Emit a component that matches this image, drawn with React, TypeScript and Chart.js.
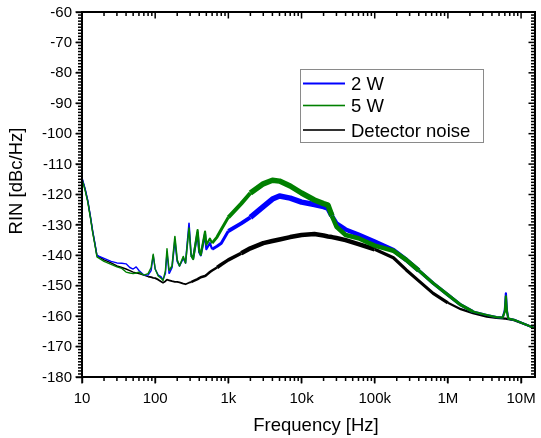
import { useEffect, useRef } from "react";
import { Chart, registerables } from "chart.js";

Chart.register(...registerables);

// frequency grid (Hz) shared by the three traces
const freqHz = [
  10, 11, 12, 13, 14, 15, 16, 20, 25, 30,
  35, 40, 45, 50, 55, 60, 70, 80, 88, 94,
  100, 110, 120, 128, 138, 145, 155, 170, 186, 200,
  215, 242, 260, 290, 310, 330, 380, 400, 420, 480,
  500, 560, 600, 700, 800, 1e3, 1.5e3, 2e3, 3e3, 4e3,
  5e3, 7e3, 1e4, 1.5e4, 2e4, 2.3e4, 2.6e4, 3e4, 4e4, 6e4,
  1e5, 1.8e5, 2.7e5, 4e5, 6.3e5, 1e6, 1.5e6, 2.2e6, 3.4e6, 4.6e6,
  5.6e6, 6.0e6, 6.2e6, 6.4e6, 6.7e6, 8e6, 1.2e7, 1.55e7,
];

// RIN in dBc/Hz
const rin2W = [
  -114.5, -118, -122, -127, -132, -136, -140, -141, -142, -142.5,
  -142.6, -142.8, -144, -144.5, -143.8, -145, -146.5, -146.5, -145, -140,
  -144.5, -146.5, -147, -148, -146, -139, -146, -144, -135, -142,
  -143.5, -141, -142.5, -129.5, -140, -141, -132.5, -139, -140, -133,
  -138, -136, -138, -137, -136, -132, -129.5, -127.5, -124, -121.5,
  -120.5, -121.2, -122.5, -123.3, -124, -124.5, -127, -129.5, -131.5, -133.2,
  -135.5, -138.3, -141.5, -145, -149.2, -153, -156.3, -158.5, -159.6, -160.3,
  -160.5, -158, -152.5, -158, -160.8, -161.2, -162.9, -164,
];

const rin5W = [
  -115, -118.5, -122.5, -127.5, -132.5, -136.5, -140.5, -142, -143, -143.8,
  -144.3, -145.5, -145.8, -146, -145.8, -145.5, -146.5, -146, -144, -139.6,
  -144.5, -146.8, -147.5, -148.3, -145, -137.8, -145, -143.5, -133.8, -141.5,
  -143.5, -140.4, -142.5, -131, -140, -141.2, -131.7, -138.5, -139.8, -132.2,
  -136.5, -134.5, -136, -134, -131.5, -127.5, -123, -119.5, -116.5, -115.3,
  -115.6, -117.2, -119.5, -121.8, -123, -123.5, -127, -130.6, -133.3, -134.4,
  -136.8, -138.5, -141.5, -145, -149.2, -153, -156.3, -158.5, -159.6, -160.3,
  -160.5, -158.5, -153.5, -158.5, -160.8, -161.2, -162.9, -164,
];

const rinDetector = [
  -114.8, -118.2, -122.2, -127.2, -132.2, -136.2, -140, -141.5, -142.5, -143.5,
  -144, -144.5, -145, -145.5, -145.8, -146, -146.5, -147, -147.2, -147.4,
  -147.5, -148, -148.6, -149, -148.5, -148, -148.2, -148.5, -148.7, -148.7,
  -148.9, -149.3, -149.5, -149, -148.8, -148.5, -147.8, -147.5, -147.2, -146.8,
  -146.5, -145.5, -145, -144, -143, -141.5, -139.3, -137.7, -136, -135.3,
  -134.8, -134, -133.3, -133, -133.5, -133.8, -134, -134.3, -135, -136.3,
  -138, -140.8, -144.8, -148.4, -152.5, -155.6, -157.7, -159, -160.2, -160.6,
  -160.7, -160.8, -160.8, -160.9, -161, -161.3, -162.9, -164,
];

const seriesLabels = ["2 W", "5 W", "Detector noise"];
const seriesColors = ["#0000ff", "#008000", "#000000"];

const xTickValues = [10, 100, 1e3, 1e4, 1e5, 1e6, 1e7];
const xTickLabels = ["10", "100", "1k", "10k", "100k", "1M", "10M"];

const X_MIN = 10;
const X_MAX = 1.55e7;
const Y_MIN = -180;
const Y_MAX = -60;
const FONT = "'Liberation Sans', Arial, sans-serif";

// the measured traces are noisy, so they get wider where the noise band is wide
const laserWidth = (f: number) =>
  f < 150 ? 1.4 : f < 300 ? 1.6 : f < 600 ? 2.2 : f < 1000 ? 3 : f < 1800 ? 4 :
  f < 25000 ? 5.5 : f < 300000 ? 4.5 : f < 2e6 ? 3.2 : 2.2;
const detectorWidth = (f: number) =>
  f < 80 ? 1.4 : f < 300 ? 1.8 : f < 700 ? 2.5 : f < 1500 ? 3.5 : f < 100000 ? 4.5 : f < 1e6 ? 3.2 : 2.2;

const isDecade = (v: number) => Math.abs(Math.log10(v) - Math.round(Math.log10(v))) < 1e-9;

const framePlugin = {
  id: "frame",
  afterDraw(chart: any) {
    const ctx = chart.ctx;
    const xs = chart.scales.x;
    const ys = chart.scales.y;
    const x0 = xs.left;
    const x1 = xs.right;
    const y0 = ys.top;
    const y1 = ys.bottom;
    ctx.save();
    ctx.fillStyle = "#000";

    // log ticks: outward on the bottom, inward on the top
    for (let d = 1; d <= 7; d++) {
      for (let m = 1; m <= 9; m++) {
        const v = m * Math.pow(10, d);
        if (v > X_MAX) break;
        const px = xs.getPixelForValue(v);
        const len = m === 1 ? 6.5 : 4;
        ctx.fillRect(px - 0.75, y1, 1.5, len);
        ctx.fillRect(px - 0.75, y0, 1.5, len);
      }
    }
    // 1 dB minor ticks, outward on the left, inward on the right
    for (let v = Y_MIN; v <= Y_MAX; v++) {
      const py = ys.getPixelForValue(v);
      const len = v % 10 === 0 ? 6.5 : 4;
      ctx.fillRect(x0 - len, py - 0.75, len, 1.5);
      ctx.fillRect(x1 - len, py - 0.75, len, 1.5);
    }
    // axis frame
    ctx.fillRect(x0 - 1, y0 - 1, x1 - x0 + 2, 2);
    ctx.fillRect(x0 - 1, y1 - 1, x1 - x0 + 2, 2);
    ctx.fillRect(x0 - 1, y0 - 1, 2, y1 - y0 + 2);
    ctx.fillRect(x1 - 1, y0 - 1, 2, y1 - y0 + 2);

    // tick labels
    ctx.font = `15px ${FONT}`;
    ctx.textAlign = "right";
    ctx.textBaseline = "middle";
    for (let v = Y_MIN; v <= Y_MAX; v += 10) {
      ctx.fillText(String(v), 72, ys.getPixelForValue(v) + 0.5);
    }
    ctx.textAlign = "center";
    ctx.textBaseline = "alphabetic";
    xTickValues.forEach((v, i) => {
      ctx.fillText(xTickLabels[i], xs.getPixelForValue(v), 402.5);
    });

    // legend box inside the plot
    ctx.fillStyle = "#fff";
    ctx.fillRect(300, 69, 183, 73);
    ctx.lineWidth = 1;
    ctx.strokeStyle = "#8a8a8a";
    ctx.strokeRect(300.5, 69.5, 183, 73);
    const rowsLine = [83.5, 105.5, 130];
    const rowsText = [89.5, 111.7, 137.3];
    const legendWidths = [2, 1.6, 1.6];
    ctx.font = `18.5px ${FONT}`;
    ctx.textAlign = "left";
    seriesLabels.forEach((label, i) => {
      ctx.fillStyle = seriesColors[i];
      ctx.fillRect(303, rowsLine[i] - legendWidths[i] / 2, 42, legendWidths[i]);
      ctx.fillStyle = "#000";
      ctx.fillText(label, 351, rowsText[i]);
    });

    // axis titles
    ctx.fillStyle = "#000";
    ctx.textAlign = "center";
    ctx.fillText("Frequency [Hz]", 316, 431);
    ctx.translate(22, 181);
    ctx.rotate(-Math.PI / 2);
    ctx.fillText("RIN [dBc/Hz]", 0, 0);
    ctx.restore();
  },
};

export default function App() {
  const canvasRef = useRef<HTMLCanvasElement | null>(null);

  useEffect(() => {
    if (!canvasRef.current) return;
    const points = (vals: number[]) => freqHz.map((f, i) => ({ x: f, y: vals[i] }));
    const chart = new Chart(canvasRef.current, {
      type: "line",
      data: {
        datasets: [
          {
            label: seriesLabels[0],
            data: points(rin2W),
            borderColor: seriesColors[0],
            order: 1,
            segment: { borderWidth: (c: any) => laserWidth(c.p0.parsed.x) },
          },
          {
            label: seriesLabels[1],
            data: points(rin5W),
            borderColor: seriesColors[1],
            order: 0,
            segment: { borderWidth: (c: any) => laserWidth(c.p0.parsed.x) },
          },
          {
            label: seriesLabels[2],
            data: points(rinDetector),
            borderColor: seriesColors[2],
            order: 2,
            segment: { borderWidth: (c: any) => detectorWidth(c.p0.parsed.x) },
          },
        ],
      },
      options: {
        responsive: false,
        animation: false,
        layout: { padding: { top: 12, right: 6, left: 0, bottom: 0 } },
        elements: {
          point: { radius: 0 },
          line: { tension: 0, borderWidth: 1.4, borderJoinStyle: "round" },
        },
        plugins: {
          legend: { display: false },
          tooltip: { enabled: false },
        },
        scales: {
          x: {
            type: "logarithmic",
            min: X_MIN,
            max: X_MAX,
            // decade ticks from the library itself, outside the plot
            grid: {
              display: true,
              drawOnChartArea: false,
              drawTicks: true,
              tickLength: 6,
              tickWidth: 1.4,
              tickColor: (c: any) => (c.tick && isDecade(c.tick.value) ? "#000" : "rgba(0,0,0,0)"),
            },
            border: { display: false },
            ticks: { display: false },
            afterFit: (scale: any) => {
              scale.height = 61;
            },
          },
          y: {
            type: "linear",
            min: Y_MIN,
            max: Y_MAX,
            grid: {
              display: true,
              drawOnChartArea: false,
              drawTicks: true,
              tickLength: 6,
              tickWidth: 1.4,
              tickColor: "#000",
            },
            border: { display: false },
            ticks: { display: false, stepSize: 10 },
            afterFit: (scale: any) => {
              scale.width = 82;
            },
          },
        },
      },
      plugins: [framePlugin],
    });
    return () => chart.destroy();
  }, []);

  return (
    <div style={{ position: "absolute", left: 0, top: 0, width: 541, height: 438, background: "#fff" }}>
      <canvas ref={canvasRef} width={541} height={438} />
    </div>
  );
}
